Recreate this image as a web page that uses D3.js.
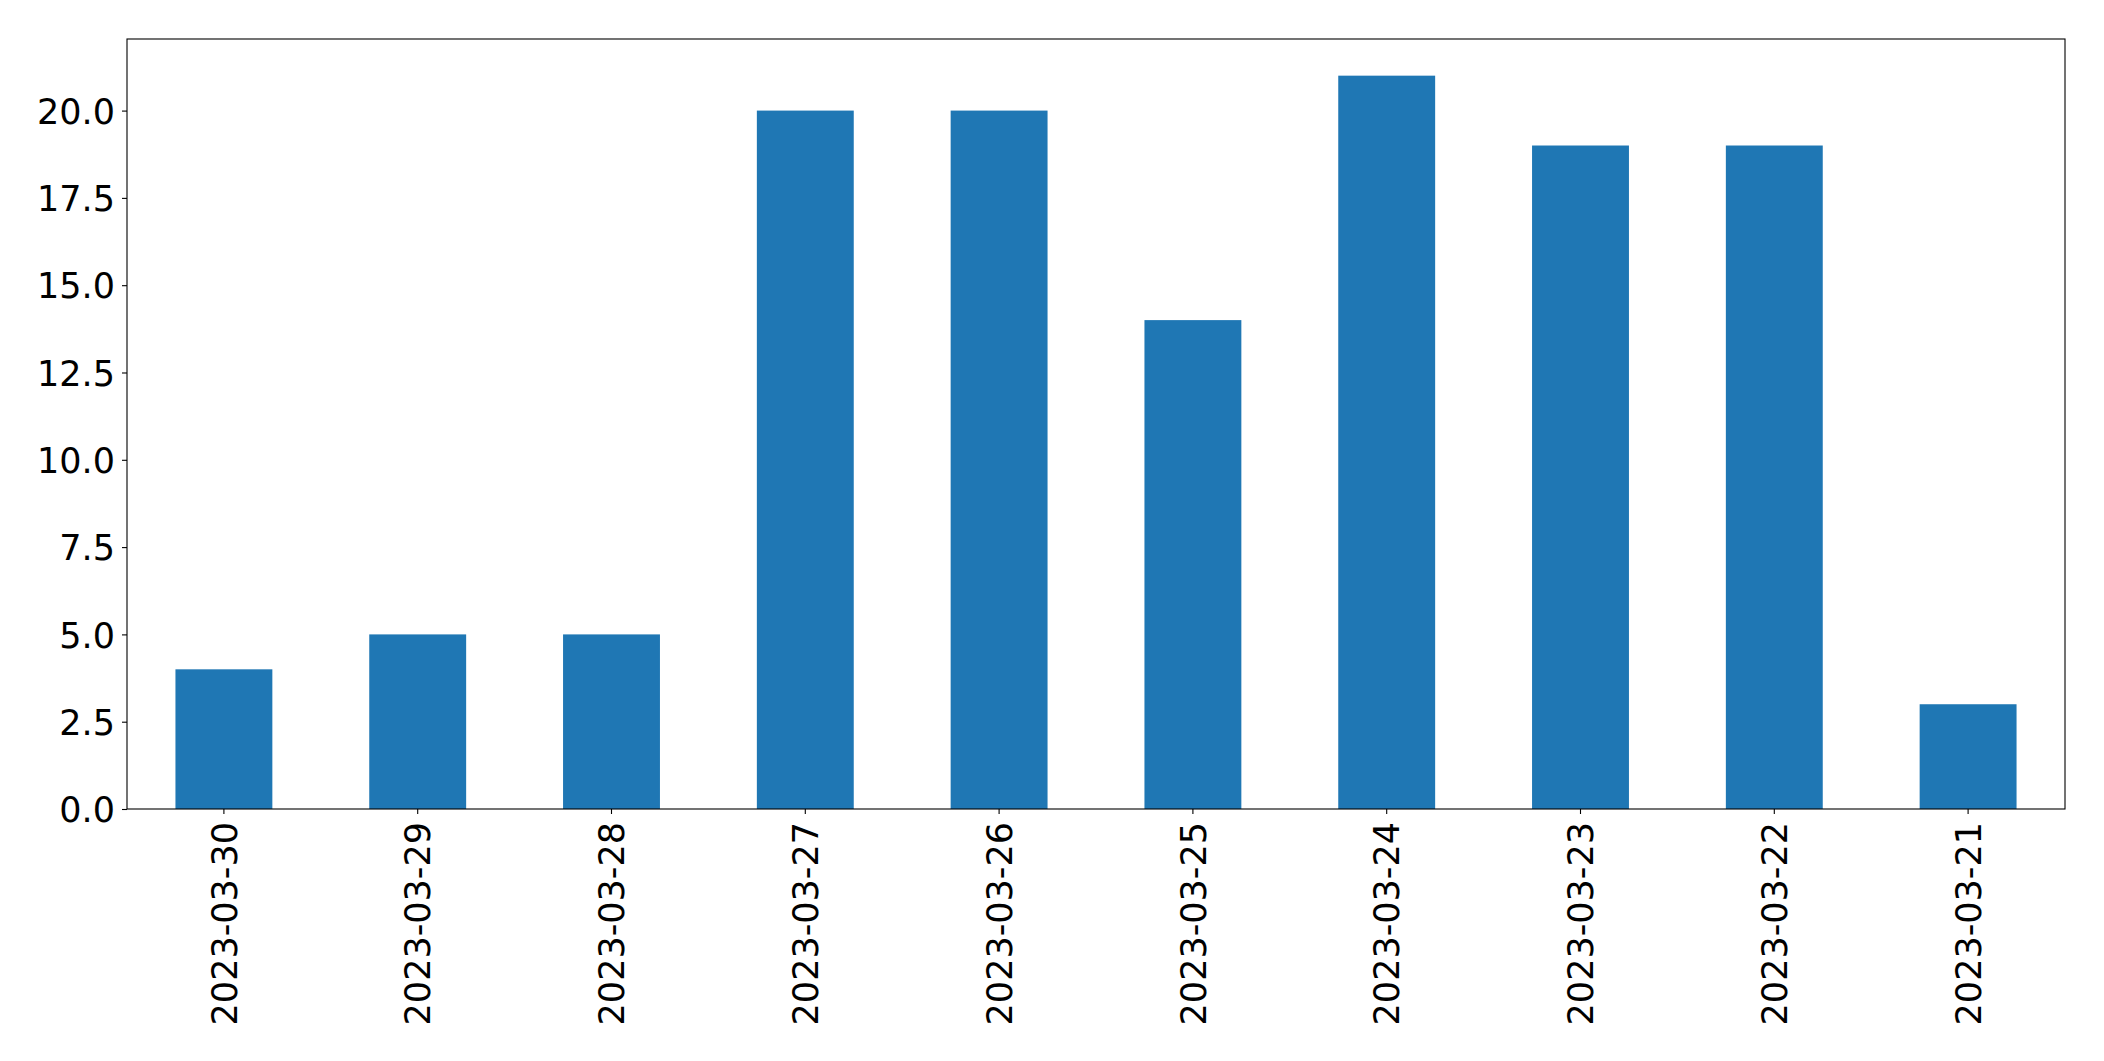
<!DOCTYPE html>
<html>
<head>
<meta charset="utf-8">
<script src="https://cdn.jsdelivr.net/npm/d3@7"></script>
<style>
  body { margin: 0; background: #ffffff; }
  text { font-family: "DejaVu Sans", sans-serif; fill: #000; }
</style>
</head>
<body>
<script>
var dates = ['2023-03-30', '2023-03-29', '2023-03-28', '2023-03-27', '2023-03-26',
             '2023-03-25', '2023-03-24', '2023-03-23', '2023-03-22', '2023-03-21'];
var counts = [4, 5, 5, 20, 20, 14, 21, 19, 19, 3];
var yTicks = [0, 2.5, 5, 7.5, 10, 12.5, 15, 17.5, 20];

var W = 2104, H = 1061;
var margin = {top: 39, left: 127, right: 39, bottom: 252},
    width = W - margin.left - margin.right,
    height = H - margin.top - margin.bottom;

var svg = d3.select('body')
    .append('svg')
    .attr('width', W)
    .attr('height', H);

var g = svg.append('g')
    .attr('transform', 'translate(' + margin.left + ',' + margin.top + ')');

var x = d3.scaleBand()
    .domain(dates)
    .range([0, width])
    .paddingInner(0.5)
    .paddingOuter(0.25);

var y = d3.scaleLinear()
    .domain([0, d3.max(counts) * 1.05])
    .range([height, 0]);

g.selectAll('rect.bar')
    .data(counts)
    .enter()
    .append('rect')
    .attr('class', 'bar')
    .attr('x', function(d, i) { return x(dates[i]); })
    .attr('y', function(d) { return y(d); })
    .attr('width', x.bandwidth())
    .attr('height', function(d) { return height - y(d); })
    .style('fill', '#1f77b4');

// y axis
var yAxis = g.append('g')
    .call(d3.axisLeft(y)
        .tickValues(yTicks)
        .tickFormat(d3.format('.1f'))
        .tickSize(5)
        .tickPadding(7));
yAxis.select('.domain').remove();
yAxis.selectAll('text').style('font-size', '35px').attr('dy', '0.36em');
yAxis.selectAll('line').attr('stroke-width', 1.1);

// x axis
var xAxis = g.append('g')
    .attr('transform', 'translate(0,' + height + ')')
    .call(d3.axisBottom(x).tickSize(5).tickPadding(0));
xAxis.select('.domain').remove();
xAxis.selectAll('line').attr('stroke-width', 1.1);
xAxis.selectAll('text')
    .style('font-size', '35px')
    .attr('text-anchor', 'end')
    .attr('x', 0)
    .attr('y', 0)
    .attr('dy', '0.36em')
    .attr('transform', 'translate(0,13) rotate(-90)');

// frame
g.append('rect')
    .attr('x', 0)
    .attr('y', 0)
    .attr('width', width)
    .attr('height', height)
    .style('fill', 'none')
    .style('stroke', '#000')
    .style('stroke-width', 1.1);
</script>
</body>
</html>
